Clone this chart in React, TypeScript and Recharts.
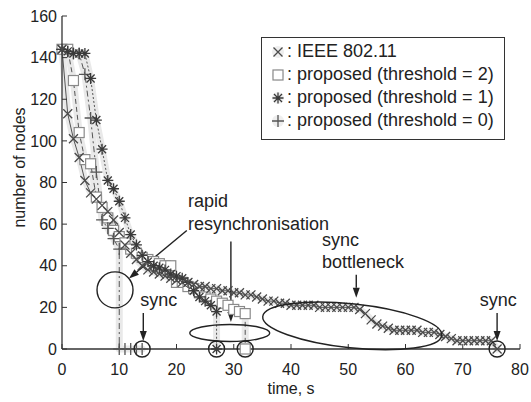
import React from "react";
import { LineChart, Line, XAxis, YAxis, ReferenceDot, ReferenceLine } from "recharts";

const FONT = '"Liberation Sans", Arial, Helvetica, sans-serif';
const INK = "#222";

// time axis (s) and number of unsynchronised nodes per scheme
const ieeeTime = [0, 1, 2, 3, 4, 5, 6, 7, 8, 9, 10, 11, 12, 13, 14, 15, 16, 17, 18, 19, 20, 21, 22, 23, 24, 25, 26, 27, 28, 29, 30, 31, 32, 33, 34, 35, 36, 37, 38, 39, 40, 41, 42, 43, 44, 45, 46, 47, 48, 49, 50, 51, 52, 53, 54, 55, 56, 57, 58, 59, 60, 61, 62, 63, 64, 65, 66, 67, 68, 69, 70, 71, 72, 73, 74, 75, 76];
const ieeeNodes = [144, 113, 101, 92, 81, 75, 72, 69, 66, 62, 56, 50, 46, 43, 40, 38, 37, 36, 35, 34, 33, 32, 32, 31, 30, 30, 29, 29, 28, 28, 27, 27, 26, 26, 25, 24, 23, 23, 22, 22, 21, 21, 21, 21, 21, 20, 20, 20, 20, 20, 20, 20, 19, 17, 14, 12, 11, 10, 9, 9, 9, 9, 9, 8, 8, 8, 7, 6, 5, 4, 4, 4, 4, 4, 4, 4, 0];

const thr2Time = [0, 1, 2, 3, 4, 5, 6, 7, 8, 9, 10, 11, 12, 13, 14, 15, 16, 17, 18, 19, 20, 21, 22, 23, 24, 25, 26, 27, 28, 29, 30, 31, 32, 32];
const thr2Nodes = [144, 144, 129, 104, 91, 89, 73, 68, 63, 57, 54, 51, 48, 46, 44, 43, 42, 41, 40, 40, 32, 32, 30, 29, 27, 25, 24, 23, 22, 21, 19, 18, 17, 0];

const thr1Time = [0, 1, 2, 3, 4, 5, 6, 7, 8, 9, 10, 11, 12, 13, 14, 15, 16, 17, 18, 19, 20, 21, 22, 23, 24, 25, 26, 27, 27];
const thr1Nodes = [144, 143, 142, 142, 142, 130, 110, 96, 81, 77, 71, 63, 55, 50, 45, 42, 40, 39, 38, 36, 35, 34, 32, 28, 25, 23, 21, 18, 0];

const thr0Time = [0, 1, 2, 3, 4, 5, 6, 7, 8, 9, 10, 10, 11, 12, 13, 14];
const thr0Nodes = [144, 143, 142, 142, 132, 111, 85, 62, 58, 53, 48, 0, 0, 0, 0, 0];

const xTicks = [0, 10, 20, 30, 40, 50, 60, 70, 80];
const yTicks = [0, 20, 40, 60, 80, 100, 120, 140, 160];

const toPoints = (t: number[], n: number[]) => t.map((x, i) => ({ x, y: n[i] }));

type Kind = "x" | "square" | "star" | "plus";

const markerColor: Record<Kind, string> = {
  x: "#4a4a4a",
  square: "#8a8a8a",
  star: "#3a3a3a",
  plus: "#555",
};

const Marker = ({ cx, cy, kind }: { cx?: number; cy?: number; kind: Kind }) => {
  if (cx == null || cy == null || isNaN(cx) || isNaN(cy)) return null;
  const c = markerColor[kind];
  if (kind === "square") {
    return <rect x={cx - 5} y={cy - 5} width={10} height={10} fill="#fff" stroke={c} strokeWidth={1.2} />;
  }
  let d = "";
  if (kind === "x") d = `M${cx - 4.5} ${cy - 4.5}L${cx + 4.5} ${cy + 4.5}M${cx - 4.5} ${cy + 4.5}L${cx + 4.5} ${cy - 4.5}`;
  if (kind === "plus") d = `M${cx - 6} ${cy}L${cx + 6} ${cy}M${cx} ${cy - 6}L${cx} ${cy + 6}`;
  if (kind === "star")
    d = `M${cx - 5.5} ${cy}L${cx + 5.5} ${cy}M${cx} ${cy - 5.5}L${cx} ${cy + 5.5}M${cx - 4} ${cy - 4}L${cx + 4} ${cy + 4}M${cx - 4} ${cy + 4}L${cx + 4} ${cy - 4}`;
  return <path d={d} stroke={c} strokeWidth={1.3} fill="none" />;
};

const series = [
  { key: "thr2", data: toPoints(thr2Time, thr2Nodes), kind: "square" as Kind, dash: "5 3", label: "proposed (threshold = 2)" },
  { key: "thr0", data: toPoints(thr0Time, thr0Nodes), kind: "plus" as Kind, dash: "6 3 2 3", label: "proposed (threshold = 0)" },
  { key: "thr1", data: toPoints(thr1Time, thr1Nodes), kind: "star" as Kind, dash: "2 2", label: "proposed (threshold = 1)" },
  { key: "ieee", data: toPoints(ieeeTime, ieeeNodes), kind: "x" as Kind, dash: undefined, label: "IEEE 802.11" },
];

const legendOrder = ["ieee", "thr2", "thr1", "thr0"];

// annotation anchors in data coordinates
const axisCircles = [
  { x: 14, y: 0 },
  { x: 27, y: 0 },
  { x: 32, y: 0 },
  { x: 76, y: 0 },
];

const arrows = [
  { from: { x: 21.8, y: 56.9 }, to: { x: 11.7, y: 33.9 } },
  { from: { x: 29.5, y: 51.6 }, to: { x: 29.5, y: 13 } },
  { from: { x: 51.4, y: 35.7 }, to: { x: 51.4, y: 24.6 } },
  { from: { x: 14.2, y: 17.3 }, to: { x: 14.2, y: 3.9 } },
  { from: { x: 76, y: 17.3 }, to: { x: 76, y: 3.9 } },
];

const notes = [
  { x: 22, y: 68.4, text: "rapid", anchor: "start" },
  { x: 22, y: 57.3, text: "resynchronisation", anchor: "start" },
  { x: 45.4, y: 49.6, text: "sync", anchor: "start" },
  { x: 45.4, y: 39, text: "bottleneck", anchor: "start" },
  { x: 16.9, y: 20.7, text: "sync", anchor: "middle" },
  { x: 76.2, y: 20.7, text: "sync", anchor: "middle" },
];

const Arrow = (props: any) => {
  const { x1, y1, x2, y2 } = props;
  if ([x1, y1, x2, y2].some((v) => v == null || isNaN(v))) return null;
  const ang = Math.atan2(y2 - y1, x2 - x1);
  const len = 10;
  const w = 3.5;
  const bx = x2 - len * Math.cos(ang);
  const by = y2 - len * Math.sin(ang);
  const px = -Math.sin(ang) * w;
  const py = Math.cos(ang) * w;
  return (
    <g>
      <line x1={x1} y1={y1} x2={bx} y2={by} stroke={INK} strokeWidth={1.4} />
      <polygon points={`${x2},${y2} ${bx + px},${by + py} ${bx - px},${by - py}`} fill={INK} />
    </g>
  );
};

const LegendMarker = ({ kind }: { kind: Kind }) => (
  <svg width={14} height={14} style={{ display: "block" }}>
    <circle cx={7} cy={7} r={6} fill="#eeeeee" />
    <Marker cx={7} cy={7} kind={kind} />
  </svg>
);

export default function App() {
  return (
    <div style={{ position: "absolute", left: 0, top: 0, width: 531, height: 402, background: "#fff", fontFamily: FONT }}>
      <LineChart width={531} height={402} margin={{ top: 16, right: 11, bottom: 8, left: 0 }}>
        <XAxis
          type="number"
          dataKey="x"
          domain={[0, 80]}
          ticks={xTicks}
          height={45}
          axisLine={{ stroke: "#333", strokeWidth: 1.3 }}
          tickLine={{ stroke: "#333" }}
          tickSize={-5}
          tickMargin={20}
          tick={{ fill: INK, fontSize: 16, fontFamily: FONT }}
          label={{ value: "time, s", position: "insideBottom", offset: 0, fill: INK, fontSize: 16, fontFamily: FONT }}
        />
        <YAxis
          type="number"
          domain={[0, 160]}
          ticks={yTicks}
          width={62}
          axisLine={{ stroke: "#333", strokeWidth: 1.3 }}
          tickLine={{ stroke: "#333" }}
          tickSize={-5}
          tickMargin={10}
          tick={{ fill: INK, fontSize: 16, fontFamily: FONT }}
          label={{
            content: ({ viewBox }: any) => {
              const cy = viewBox.y + viewBox.height / 2 - 15;
              const cx = viewBox.x + 19;
              return (
                <text
                  x={cx}
                  y={cy}
                  transform={`rotate(-90 ${cx} ${cy})`}
                  textAnchor="middle"
                  dominantBaseline="central"
                  fill={INK}
                  fontSize={16}
                  fontFamily={FONT}
                >
                  number of nodes
                </text>
              );
            },
          }}
        />
        {series.map((s) => (
          <Line
            key={`${s.key}-glow`}
            data={s.data}
            dataKey="y"
            type="linear"
            stroke="#e9e9e9"
            strokeWidth={7}
            strokeLinejoin="round"
            strokeLinecap="round"
            dot={false}
            activeDot={false}
            legendType="none"
            isAnimationActive={false}
          />
        ))}
        {series.map((s) => (
          <Line
            key={s.key}
            data={s.data}
            dataKey="y"
            type="linear"
            stroke="#555"
            strokeWidth={1}
            strokeDasharray={s.dash}
            dot={(p: any) => <Marker key={`${s.key}-${p.index}`} cx={p.cx} cy={p.cy} kind={s.kind} />}
            activeDot={false}
            isAnimationActive={false}
          />
        ))}
        <ReferenceDot
          x={9.26}
          y={28.4}
          r={18}
          shape={(p: any) => <circle cx={p.cx} cy={p.cy} r={18} fill="none" stroke={INK} strokeWidth={1.4} />}
        />
        <ReferenceDot
          x={29.3}
          y={7.7}
          r={8}
          shape={(p: any) => <ellipse cx={p.cx} cy={p.cy} rx={40} ry={8.5} fill="none" stroke={INK} strokeWidth={1.4} />}
        />
        <ReferenceDot
          x={50.7}
          y={11.1}
          r={8}
          shape={(p: any) => (
            <ellipse
              cx={p.cx}
              cy={p.cy}
              rx={90}
              ry={22}
              transform={`rotate(6 ${p.cx} ${p.cy})`}
              fill="none"
              stroke={INK}
              strokeWidth={1.4}
            />
          )}
        />
        {axisCircles.map((c, i) => (
          <ReferenceDot
            key={`c${i}`}
            x={c.x}
            y={c.y}
            r={8}
            ifOverflow="visible"
            shape={(p: any) => <circle cx={p.cx} cy={p.cy} r={8} fill="none" stroke={INK} strokeWidth={1.4} />}
          />
        ))}
        {arrows.map((a, i) => (
          <ReferenceLine key={`a${i}`} segment={[a.from, a.to]} shape={(p: any) => <Arrow {...p} />} />
        ))}
        {notes.map((n, i) => (
          <ReferenceDot
            key={`n${i}`}
            x={n.x}
            y={n.y}
            r={1}
            shape={(p: any) => (
              <text x={p.cx} y={p.cy} textAnchor={n.anchor} fill={INK} fontSize={18} fontFamily={FONT}>
                {n.text}
              </text>
            )}
          />
        ))}
      </LineChart>
      <div
        style={{
          position: "absolute",
          left: 261,
          top: 37,
          width: 244,
          height: 103,
          boxSizing: "border-box",
          border: "1px solid #333",
          background: "#fff",
          paddingTop: 2,
          fontSize: 18,
          color: INK,
        }}
      >
        {legendOrder.map((k) => {
          const s = series.find((q) => q.key === k)!;
          return (
            <div key={k} style={{ display: "flex", alignItems: "center", height: 23 }}>
              <div style={{ marginLeft: 9 }}>
                <LegendMarker kind={s.kind} />
              </div>
              <span style={{ marginLeft: 2, whiteSpace: "nowrap" }}>: {s.label}</span>
            </div>
          );
        })}
      </div>
    </div>
  );
}
